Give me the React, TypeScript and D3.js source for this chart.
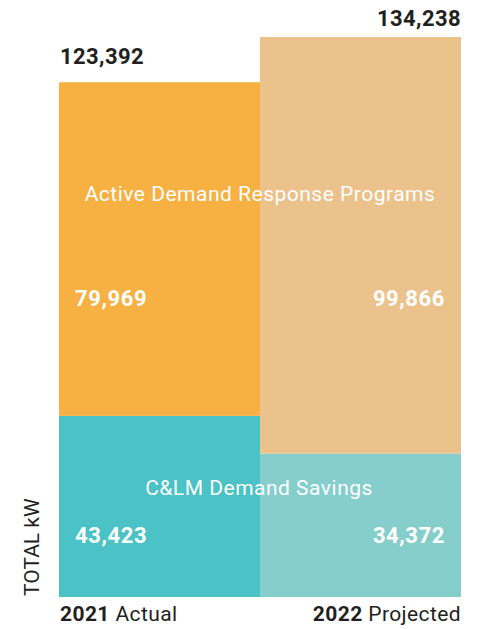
import React, { useEffect, useRef } from 'react';
import * as d3 from 'd3';

const years = ['2021', '2022'];
const yearLabels = ['Actual', 'Projected'];
const clmSavings = [43423, 34372];
const activeDR = [79969, 99866];
const totals = [123392, 134238];
const seriesNames = ['C&LM Demand Savings', 'Active Demand Response Programs'];

const bottomColors = ['#4AC2C6', '#86CECC'];
const topColors = ['#F6B142', '#EBC28B'];

const App = () => {
  const ref = useRef<SVGSVGElement>(null);
  const W = 477;
  const H = 629;

  useEffect(() => {
    const svg = d3.select(ref.current);
    svg.selectAll('*').remove();

    const x = d3.scaleBand().domain(years).range([59, 461]).padding(0);
    const y = d3.scaleLinear().domain([0, d3.max(totals) as number]).range([597, 37]);
    const font = 'Roboto, "DejaVu Sans", sans-serif';
    const dark = '#231f20';

    // bottom segments
    svg.selectAll('.bottom')
      .data(years)
      .enter()
      .append('rect')
      .attr('x', d => x(d) as number)
      .attr('width', x.bandwidth())
      .attr('y', (d, i) => y(clmSavings[i]))
      .attr('height', (d, i) => y(0) - y(clmSavings[i]))
      .attr('fill', (d, i) => bottomColors[i]);

    // top segments
    svg.selectAll('.top')
      .data(years)
      .enter()
      .append('rect')
      .attr('x', d => x(d) as number)
      .attr('width', x.bandwidth())
      .attr('y', (d, i) => y(totals[i]))
      .attr('height', (d, i) => y(clmSavings[i]) - y(totals[i]))
      .attr('fill', (d, i) => topColors[i]);

    const fmt = d3.format(',');

    // totals above bars
    svg.selectAll('.total')
      .data(years)
      .enter()
      .append('text')
      .attr('x', (d, i) => (i === 0 ? (x(d) as number) + 1 : (x(d) as number) + x.bandwidth()))
      .attr('y', (d, i) => y(totals[i]) - (i === 0 ? 18 : 11))
      .attr('text-anchor', (d, i) => (i === 0 ? 'start' : 'end'))
      .attr('font-family', font)
      .attr('font-weight', 700)
      .attr('font-size', 22)
      .attr('letter-spacing', 0.4)
      .attr('fill', dark)
      .text((d, i) => fmt(totals[i]));

    // segment values
    const valueLabel = (vals: number[], yPos: number) => {
      svg.append('g')
        .selectAll('text')
        .data(years)
        .enter()
        .append('text')
        .attr('x', (d, i) => (i === 0 ? (x(d) as number) + 16 : (x(d) as number) + x.bandwidth() - 16))
        .attr('y', yPos)
        .attr('text-anchor', (d, i) => (i === 0 ? 'start' : 'end'))
        .attr('font-family', font)
        .attr('font-weight', 700)
        .attr('font-size', 22)
        .attr('letter-spacing', 0.6)
        .attr('fill', '#fff')
        .text((d, i) => fmt(vals[i]));
    };
    valueLabel(activeDR, 306);
    valueLabel(clmSavings, 543);

    // series names
    svg.append('text')
      .attr('x', 260)
      .attr('y', 201)
      .attr('text-anchor', 'middle')
      .attr('font-family', font)
      .attr('font-size', 21)
      .attr('letter-spacing', 0.5)
      .attr('fill', '#fff')
      .text(seriesNames[1]);
    svg.append('text')
      .attr('x', 259)
      .attr('y', 495)
      .attr('text-anchor', 'middle')
      .attr('font-family', font)
      .attr('font-size', 21)
      .attr('letter-spacing', 0.5)
      .attr('fill', '#fff')
      .text(seriesNames[0]);

    // x labels
    svg.selectAll('.xl')
      .data(years)
      .enter()
      .append('text')
      .attr('x', (d, i) => (i === 0 ? (x(d) as number) + 1 : (x(d) as number) + x.bandwidth()))
      .attr('y', 621)
      .attr('text-anchor', (d, i) => (i === 0 ? 'start' : 'end'))
      .attr('font-family', font)
      .attr('font-size', 21)
      .attr('letter-spacing', 0.4)
      .attr('fill', dark)
      .each(function (d, i) {
        const t = d3.select(this);
        t.append('tspan').attr('font-weight', 700).text(d);
        t.append('tspan').text(' ' + yearLabels[i]);
      });

    // y axis title
    svg.append('text')
      .attr('transform', 'translate(39,596) rotate(-90)')
      .attr('text-anchor', 'start')
      .attr('font-family', font)
      .attr('font-size', 21)
      .attr('fill', dark)
      .text('TOTAL kW');
  }, []);

  return (
    <svg ref={ref} width={W} height={H} style={{ position: 'absolute', left: 0, top: 0 }}></svg>
  );
};

export default App;
